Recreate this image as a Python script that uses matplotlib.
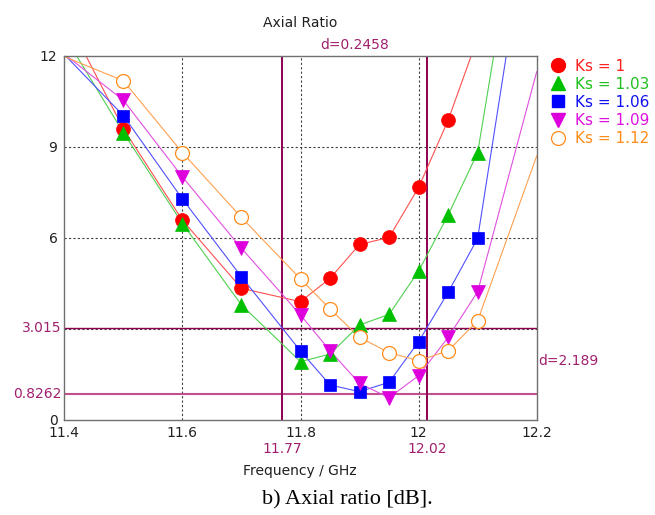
import numpy as np
import matplotlib
matplotlib.use("Agg")
import matplotlib.pyplot as plt
from matplotlib.lines import Line2D

# Frequency grid (GHz); line samples beyond the markers are off-chart extensions
freq = [11.4, 11.5, 11.6, 11.7, 11.8, 11.85, 11.9, 11.95, 12.0, 12.05, 12.1, 12.15, 12.2]
marker_freq = [11.5, 11.6, 11.7, 11.8, 11.85, 11.9, 11.95, 12.0, 12.05, 12.1]
nan = np.nan

ks_labels = ["Ks = 1", "Ks = 1.03", "Ks = 1.06", "Ks = 1.09", "Ks = 1.12"]
ar_ks100 = [13.4, 9.6, 6.58, 4.33, 3.89, 4.66, 5.78, 6.01, 7.66, 9.88, 12.6, nan, nan]
ar_ks103 = [12.67, 9.47, 6.47, 3.78, 1.91, 2.16, 3.12, 3.47, 4.90, 6.75, 8.81, 14.7, nan]
ar_ks106 = [12.05, 10.03, 7.28, 4.71, 2.26, 1.14, 0.92, 1.23, 2.57, 4.20, 5.98, 12.2, nan]
ar_ks109 = [12.06, 10.54, 8.01, 5.65, 3.45, 2.27, 1.19, 0.72, 1.45, 2.71, 4.22, nan, 11.48]
ar_ks112 = [11.98, 11.18, 8.81, 6.67, 4.64, 3.65, 2.71, 2.21, 1.94, 2.27, 3.26, nan, 8.7]

series = [ar_ks100, ar_ks103, ar_ks106, ar_ks109, ar_ks112]
line_colors = ["#FF5050", "#50D050", "#5050FF", "#E050E0", "#FFA050"]
mk_colors = ["#FF0000", "#00C000", "#0000FF", "#DD00DD", "#FF8C1A"]
text_colors = ["#FF2020", "#20C020", "#1010F0", "#DD10DD", "#FF8C1A"]
markers = ["o", "^", "s", "v", "o"]

# Marker readouts
x_marker1 = 11.7692
x_delta = 0.2458
y_marker_hi = 3.015
y_marker_lo = 0.8262
y_delta = 2.189

fig = plt.figure(figsize=(6.55, 5.15), dpi=100)
ax = fig.add_axes([0.0982, 0.1854, 0.7212, 0.7059])

purple = "#8E0050"
pink = "#C0508E"
txt_purple = "#A0206E"

ax.set_xlim(11.4, 12.2)
ax.set_ylim(0, 12)

for x in [11.6, 11.8, 12.0]:
    ax.axvline(x, color="#404040", lw=0.8, ls=(0, (2, 2)), zorder=1)
for y in [3, 6, 9]:
    ax.axhline(y, color="#404040", lw=0.8, ls=(0, (2, 2)), zorder=1)

ax.axhline(y_marker_hi, color=purple, lw=1.0, zorder=1.5)
ax.axhline(y_marker_lo, color=pink, lw=1.5, zorder=1.5)
ax.axvline(x_marker1, color=purple, lw=1.4, zorder=1.5)
ax.axvline(x_marker1 + x_delta, color=purple, lw=1.4, zorder=1.5)

fa = np.array(freq)
mf = np.array(marker_freq)
handles = []
for i, vals in enumerate(series):
    v = np.array(vals, dtype=float)
    ok = ~np.isnan(v)
    ax.plot(fa[ok], v[ok], color=line_colors[i], lw=0.8, zorder=2)
    mv = np.array([vals[freq.index(f)] for f in marker_freq], dtype=float)
    mok = (~np.isnan(mv)) & (mv <= 12)
    if i == 4:
        ax.plot(mf[mok], mv[mok], ls="none", marker="o", ms=10, mfc="white",
                mec=mk_colors[i], mew=0.9, zorder=3)
        h = Line2D([], [], ls="none", marker="o", ms=10, mfc="white", mec=mk_colors[i], mew=0.9)
    else:
        ms = 9 if markers[i] == "s" else 10
        ax.plot(mf[mok], mv[mok], ls="none", marker=markers[i], ms=ms, mfc=mk_colors[i],
                mec=mk_colors[i], mew=0.5, zorder=3)
        h = Line2D([], [], ls="none", marker=markers[i], ms=ms, mfc=mk_colors[i], mec=mk_colors[i])
    handles.append(h)

for s in ax.spines.values():
    s.set_color("#707070")
    s.set_linewidth(1.0)

ax.set_xticks([11.4, 11.6, 11.8, 12.0, 12.2])
ax.set_xticklabels(["11.4", "11.6", "11.8", "12", "12.2"])
ax.set_yticks([0, 3, 6, 9, 12])
ax.set_yticklabels(["0", "", "6", "9", "12"])
ax.tick_params(length=0, labelsize=10, colors="#202020", pad=5)

# marker value labels
ax.text(-0.006, y_marker_hi, "3.015", transform=ax.get_yaxis_transform(), ha="right",
        va="center", color=txt_purple, fontsize=10)
ax.text(-0.006, y_marker_lo, "0.8262", transform=ax.get_yaxis_transform(), ha="right",
        va="center", color=txt_purple, fontsize=10)
ax.text(x_marker1, -0.062, "11.77", transform=ax.get_xaxis_transform(), ha="center",
        va="top", color=txt_purple, fontsize=10)
ax.text(x_marker1 + x_delta, -0.062, "12.02", transform=ax.get_xaxis_transform(), ha="center",
        va="top", color=txt_purple, fontsize=10)
ax.text(x_marker1 + x_delta / 2, 1.012, "d=%.4f" % x_delta, transform=ax.get_xaxis_transform(),
        ha="center", va="bottom", color=txt_purple, fontsize=10)
ax.text(1.004, (y_marker_hi + y_marker_lo) / 2, "d=%.3f" % y_delta,
        transform=ax.get_yaxis_transform(), ha="left", va="center", color=txt_purple, fontsize=10)

fig.text(0.458, 0.955, "Axial Ratio", ha="center", va="center", fontsize=10, color="#202020")
fig.text(0.458, 0.085, "Frequency / GHz", ha="center", va="center", fontsize=10, color="#202020")
fig.text(0.53, 0.03, "b) Axial ratio [dB].", ha="center", va="center", fontsize=16,
         family="Liberation Serif", color="black")

leg = fig.legend(handles, ks_labels, loc="upper left", bbox_to_anchor=(0.841, 0.886), frameon=False,
                 fontsize=11, handlelength=1.0, handletextpad=0.55, labelspacing=0.2,
                 borderaxespad=0, borderpad=0)
for t, c in zip(leg.get_texts(), text_colors):
    t.set_color(c)

fig.savefig("out.png", dpi=100)
